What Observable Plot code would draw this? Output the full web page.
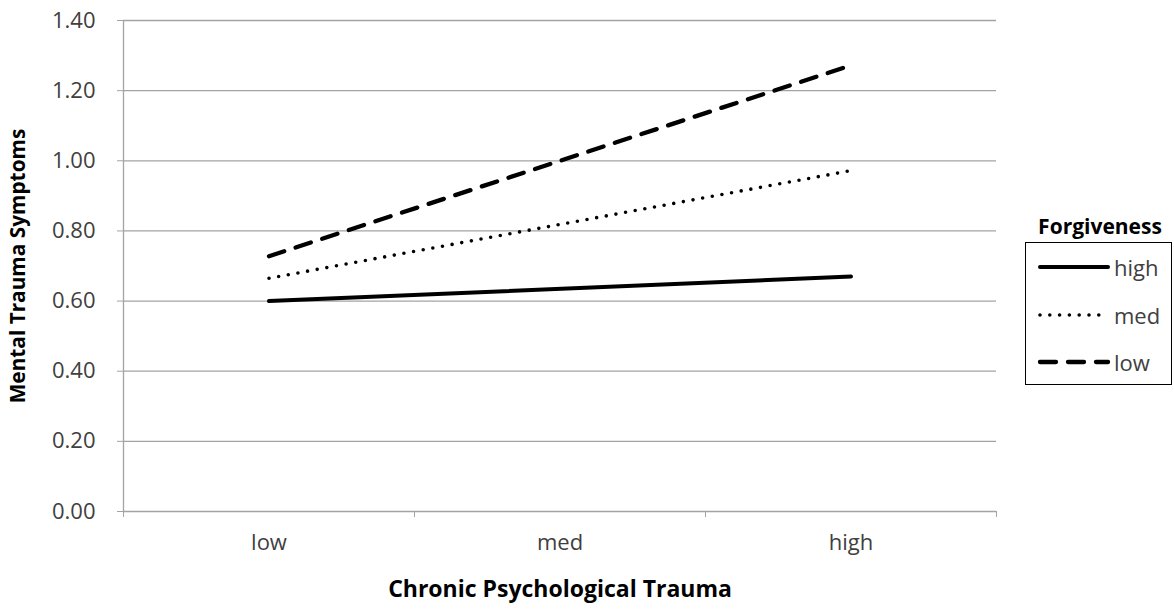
<!DOCTYPE html>
<html><head><meta charset="utf-8">
<script src="https://cdn.jsdelivr.net/npm/d3@7"></script>
<script src="https://cdn.jsdelivr.net/npm/@observablehq/plot@0.6"></script>
<style>
body{margin:0;background:#fff;font-family:"Open Sans",sans-serif}
#wrap{position:relative;width:1174px;height:610px;overflow:hidden}
svg g[aria-label="x-axis label"] text{font-weight:bold;font-size:23px;fill:#000}
svg g[aria-label="y-axis label"] text{font-weight:bold;font-size:20.8px;fill:#000}
#legend{position:absolute;left:1025px;top:242px;width:147px;height:143px;border:1px solid #000;box-sizing:border-box;background:#fff}
#legtitle{position:absolute;left:1025px;width:150px;top:212px;text-align:center;font-weight:bold;font-size:21px;color:#000}
.row{position:absolute;left:12px;height:30px;display:flex;align-items:center}
.row span{font-size:22px;color:#404040;margin-left:4px}
</style></head><body><div id="wrap"></div>
<script>
// Data
const categories = ["low", "med", "high"];          // Chronic Psychological Trauma
const endpoints = ["low", "high"];                  // where each line is drawn
const seriesNames = ["high", "med", "low"];          // Forgiveness levels
const forgivenessHigh = [0.60, 0.67];
const forgivenessMed = [0.665, 0.972];
const forgivenessLow = [0.728, 1.272];
const yTicks = [0, 0.2, 0.4, 0.6, 0.8, 1.0, 1.2, 1.4];

const seriesValues = {high: forgivenessHigh, med: forgivenessMed, low: forgivenessLow};
const dashes = {high: null, med: "0,9.8", low: "16,12"};
const widths = {high: 4, med: 3.6, low: 4.3};

const rows = [];
for (const s of seriesNames) {
  endpoints.forEach((c, i) => rows.push({s, x: categories.indexOf(c), y: seriesValues[s][i]}));
}
const catIdx = categories.map((c, i) => i);
const bounds = d3.range(categories.length + 1).map(i => i - 0.5);
const grid = "#a3a3a3";

const lineMarks = seriesNames.map(s => Plot.line(rows.filter(r => r.s === s), {
  x: "x", y: "y", stroke: "#000", strokeWidth: widths[s],
  strokeDasharray: dashes[s], strokeLinecap: "round"
}));

const chart = Plot.plot({
  width: 1174, height: 610,
  marginLeft: 123, marginRight: 178, marginTop: 20, marginBottom: 99,
  style: {fontFamily: "Open Sans", fontSize: "22px", color: "#404040", background: "white", overflow: "visible"},
  x: {type: "linear", domain: [bounds[0], bounds[bounds.length - 1]]},
  y: {domain: [0, 1.4]},
  marks: [
    Plot.ruleY(yTicks, {stroke: grid, strokeWidth: 1.3}),
    Plot.ruleX([bounds[0]], {stroke: grid, strokeWidth: 1.3}),
    Plot.axisY(yTicks, {tickSize: 6, tickPadding: 22, tickFormat: d => d.toFixed(2), stroke: grid, fill: "#404040",
      label: "Mental Trauma Symptoms", labelAnchor: "center", labelOffset: 113, labelArrow: "none"}),
    Plot.axisX(bounds, {tickSize: 6, tickFormat: () => "", stroke: grid, label: null}),
    Plot.axisX(catIdx, {tickSize: 0, tickPadding: 23, tickFormat: i => categories[i], fill: "#404040",
      label: "Chronic Psychological Trauma", labelAnchor: "center", labelOffset: 85, labelArrow: "none"}),
    ...lineMarks
  ]
});
const wrap = document.getElementById("wrap");
wrap.appendChild(chart);

// Legend
const lt = document.createElement("div");
lt.id = "legtitle"; lt.textContent = "Forgiveness";
wrap.appendChild(lt);
const leg = document.createElement("div");
leg.id = "legend";
seriesNames.forEach((s, i) => {
  const row = document.createElement("div");
  row.className = "row";
  row.style.top = (9 + i * 47.5) + "px";
  const sw = d3.create("svg").attr("width", 72).attr("height", 10);
  sw.append("line").attr("x1", 2).attr("x2", 70).attr("y1", 5).attr("y2", 5)
    .attr("stroke", "#000").attr("stroke-width", widths[s])
    .attr("stroke-dasharray", dashes[s]).attr("stroke-linecap", "round");
  row.appendChild(sw.node());
  const t = document.createElement("span"); t.textContent = s;
  row.appendChild(t);
  leg.appendChild(row);
});
wrap.appendChild(leg);
</script></body></html>
